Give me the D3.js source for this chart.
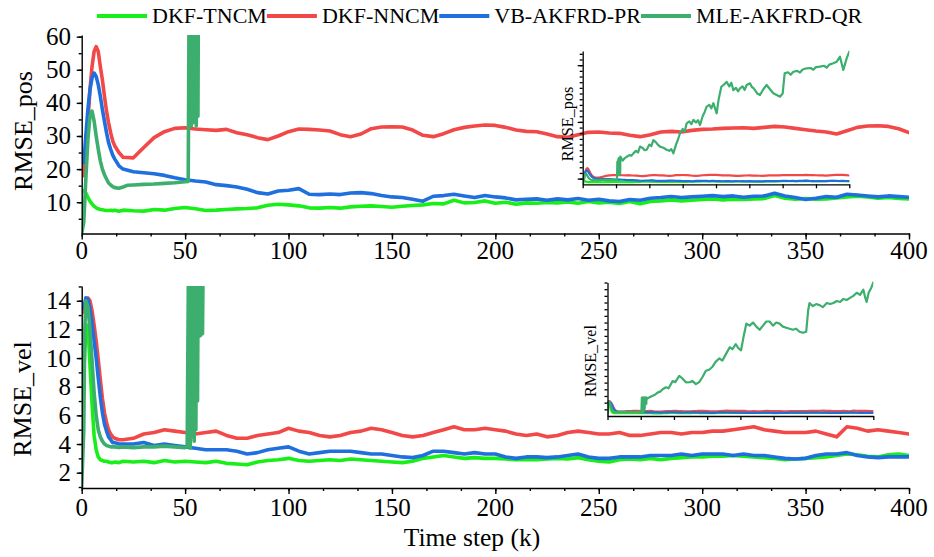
<!DOCTYPE html>
<html lang="en">
<head>
<meta charset="UTF-8">
<title>RMSE comparison</title>
<script src="https://cdn.jsdelivr.net/npm/d3@7"></script>
<style>
    body { margin: 0; background: #fff; }
    svg { display: block; }
    .axis path, .axis line { stroke: #000; stroke-width: 1.4; }
    .inset path, .inset line { stroke: #000; stroke-width: 1.3; }
    .line { fill: none; stroke-linejoin: round; stroke-linecap: round; }
</style>
</head>
<body>
<svg id="chart" width="934" height="557"></svg>
<script>
// series names and colours
const seriesNames = ["DKF-TNCM", "DKF-NNCM", "VB-AKFRD-PR", "MLE-AKFRD-QR"];
const seriesColors = ["#18ee18", "#f24848", "#1f6fde", "#3cae6d"];

// tick labels
const xTicks = [0, 50, 100, 150, 200, 250, 300, 350, 400];
const posTicks = [10, 20, 30, 40, 50, 60];
const velTicks = [2, 4, 6, 8, 10, 12, 14];

// time steps shared by the three stable filters
const kSteps = [1, 2, 3, 4, 5, 6, 7, 8, 9, 10, 11, 12, 13, 14, 15, 16, 18,
    20, 25, 30, 35, 40, 45, 50, 55, 60, 65,
    70, 75, 80, 85, 90, 95, 100, 105, 110, 115,
    120, 125, 130, 135, 140, 145, 150, 155, 160, 165,
    170, 175, 180, 185, 190, 195, 200, 205, 210, 215,
    220, 225, 230, 235, 240, 245, 250, 255, 260, 265,
    270, 275, 280, 285, 290, 295, 300, 305, 310, 315,
    320, 325, 330, 335, 340, 345, 350, 355, 360, 365,
    370, 375, 380, 385, 390, 395, 400];

// RMSE_pos
const posTNCM = [13.5, 12.8, 11.5, 10.3, 9.5, 8.8, 8.3, 8, 7.8, 7.7, 7.6, 7.5, 7.5, 7.6, 7.4, 7.6, 7.3,
    7.6, 7.4, 7.3, 7.8, 7.6, 8.1, 8.4, 8, 7.5, 7.6,
    7.8, 8, 8.1, 8.3, 9.1, 9.4, 9.2, 8.9, 8.3, 8.2,
    8.4, 8.2, 8.6, 8.8, 8.9, 8.7, 8.5, 8.8, 9, 9.2,
    9.6, 9.5, 10.6, 9.8, 9.9, 10.4, 9.7, 10, 9.4, 9.8,
    9.7, 9.9, 9.8, 10.1, 9.7, 10.2, 9.8, 10, 9.6, 10.2,
    9.5, 10.2, 10.4, 10.7, 10.4, 10.6, 10.8, 11, 10.7, 10.9,
    10.8, 11, 11.1, 12, 11.2, 10.9, 11.1, 10.9, 11, 11.3,
    11.6, 11.8, 11.6, 11.2, 11.4, 11.1, 11];
const posNNCM = [18, 24, 34, 44, 51, 55.5, 57, 55.5, 51, 47, 42, 37.5, 34, 31, 28.5, 27, 25,
    23.6, 23.4, 26.5, 29.5, 31.3, 32.3, 32.5, 32.1, 31.9, 31.7,
    32, 31, 30.4, 29.5, 28.9, 30, 31.3, 32.1, 32, 31.8,
    31.5, 30.4, 29.8, 30.6, 32.2, 32.7, 32.8, 32.7, 31.8, 30.2,
    29.8, 30.7, 31.9, 32.6, 33, 33.3, 33.2, 32.6, 31.8, 31.4,
    31.3, 30.6, 29.8, 29.6, 30.4, 31.1, 31.2, 30.9, 30.8, 30.2,
    29.8, 30.4, 31.2, 31.4, 31.2, 31.7, 32, 32.1, 32.3, 32.4,
    32.5, 32.3, 32.6, 32.9, 32.7, 32.3, 31.9, 31.5, 31.2, 30.6,
    31.6, 32.6, 33, 33.1, 32.9, 32.2, 31];
const posVB = [22, 30, 38, 44, 47.5, 49, 48, 45.5, 42, 38, 34.5, 31, 28, 26, 24.2, 23, 21,
    20, 19.2, 18.9, 18.6, 18.1, 17.4, 16.8, 16.4, 16.1, 15.3,
    15, 14.6, 13.9, 12.9, 12.5, 13.4, 13.6, 14.1, 12.4, 12.3,
    12.5, 12.3, 12.8, 12.9, 12.6, 12, 11.6, 11.4, 10.9, 10.3,
    11.8, 12, 12.4, 11.9, 11.4, 12, 11.6, 11.3, 10.7, 10.9,
    11, 10.6, 11, 10.7, 11.1, 10.6, 10.9, 10.4, 10.2, 10.8,
    10.6, 11.2, 11.4, 11.7, 11.4, 11.6, 11.8, 12, 11.7, 11.9,
    11.5, 11.8, 11.9, 12.7, 11.9, 11.4, 10.8, 11.2, 11.7, 11.5,
    12.4, 12.2, 11.9, 11.6, 11.9, 11.7, 11.5];
// MLE diverges after k = 51, so it keeps its own [k, value] pairs
const posMLE = [[0, 0.6], [1, 4], [2, 17], [3, 29], [4, 36], [5, 37.5], [6, 34.5], [7, 30], [8, 26], [9, 22.5],
    [10, 20], [11, 18.3], [12, 17], [13, 15.8], [14, 15.2], [15, 14.7], [16, 14.4], [18, 14.2], [20, 14.6],
    [22, 15.1], [25, 15.2], [30, 15.4], [35, 15.5], [40, 15.7], [45, 15.9], [50, 16.2], [51.5, 16.3],
    [52, 80], [52.5, 75], [53, 33], [53.4, 88], [53.8, 34], [54.2, 92], [54.6, 35], [55, 90], [55.4, 33],
    [55.8, 95], [56.2, 36], [56.6, 98], [60, 84], [63, 92], [66, 97], [70, 103], [73, 101], [76, 109],
    [80, 118], [83, 112], [86, 133], [90, 128], [93, 120], [96, 122], [100, 140], [103, 135], [106, 156],
    [110, 148], [113, 139], [116, 133], [120, 130], [123, 126], [126, 122], [130, 118], [133, 124], [136, 109],
    [140, 140], [143, 158], [146, 180], [150, 195], [153, 186], [156, 215], [160, 222], [163, 212], [166, 227],
    [170, 218], [173, 226], [176, 209], [180, 240], [183, 255], [186, 274], [190, 280], [193, 268], [196, 286],
    [201, 250], [204, 300], [208, 344], [212, 352], [216, 361], [220, 345], [223, 358], [226, 332], [230, 340],
    [233, 328], [236, 338], [240, 345], [243, 333], [246, 350], [251, 356], [254, 342], [256, 340], [259, 330],
    [262, 320], [266, 315], [271, 335], [276, 350], [281, 335], [286, 321], [291, 315], [296, 309], [300, 320],
    [303, 391], [308, 395], [312, 386], [316, 397], [322, 400], [326, 394], [330, 405], [336, 409], [342, 410],
    [346, 404], [350, 413], [356, 415], [362, 418], [366, 411], [370, 422], [376, 427], [381, 432], [386, 450],
    [391, 403], [396, 444], [400, 468]];

// RMSE_vel
const velTNCM = [9, 12, 12.3, 9.5, 6.8, 4.6, 3.6, 3.1, 2.9, 2.85, 2.8, 2.8, 2.75, 2.7, 2.7, 2.75, 2.7,
    2.8, 2.75, 2.8, 2.7, 2.85, 2.75, 2.8, 2.75, 2.7, 2.8,
    2.65, 2.6, 2.55, 2.75, 2.85, 2.9, 3, 2.85, 2.8, 2.85,
    2.9, 2.85, 2.95, 2.9, 2.85, 2.8, 2.75, 2.7, 2.8, 3,
    3.1, 3.2, 3.1, 3, 3.05, 3, 3, 2.95, 2.9, 2.9,
    2.9, 2.95, 3, 2.95, 3.05, 2.9, 2.8, 2.75, 2.9, 2.95,
    2.9, 3, 2.9, 3, 3.05, 3.1, 3.1, 3.15, 3.15, 3.2,
    3.15, 3.1, 3.05, 3, 2.9, 2.95, 3, 3.05, 3.1, 3.2,
    3.3, 3.25, 3.15, 3.1, 3.25, 3.3, 3.2];
const velNNCM = [13.2, 14, 14.2, 14, 13.3, 12.3, 11.2, 9.9, 8.5, 7.2, 6.2, 5.5, 5, 4.7, 4.5, 4.4, 4.3,
    4.3, 4.4, 4.7, 4.8, 5, 4.9, 4.8, 4.7, 4.8, 4.9,
    4.6, 4.4, 4.4, 4.6, 4.7, 4.8, 5.1, 4.9, 4.8, 4.6,
    4.5, 4.6, 4.8, 4.9, 5.1, 5, 4.8, 4.6, 4.5, 4.6,
    4.8, 5, 5.2, 5, 5, 5.1, 5, 4.9, 4.7, 4.6,
    4.7, 4.5, 4.6, 4.8, 4.9, 4.8, 4.7, 4.7, 4.8, 4.6,
    4.6, 4.7, 4.8, 4.8, 4.7, 4.8, 4.8, 4.9, 4.9, 5,
    5.1, 5.2, 5, 4.9, 4.8, 4.8, 4.8, 4.9, 4.7, 4.5,
    5.2, 5.1, 4.9, 5, 4.9, 4.8, 4.7];
const velVB = [13.5, 14.2, 14.1, 13.4, 12.4, 11.2, 10, 8.6, 7.3, 6.2, 5.4, 4.9, 4.5, 4.3, 4.1, 4.1, 4,
    4, 4, 4.1, 3.9, 4, 3.9, 3.8, 3.7, 3.6, 3.6,
    3.6, 3.5, 3.3, 3.4, 3.6, 3.7, 3.8, 3.5, 3.3, 3.4,
    3.5, 3.5, 3.5, 3.4, 3.3, 3.3, 3.2, 3.1, 3.05, 3.2,
    3.5, 3.5, 3.4, 3.3, 3.4, 3.3, 3.3, 3.1, 3, 3.1,
    3.1, 3.05, 3.1, 3.2, 3.3, 3.1, 3, 3, 3.1, 3.1,
    3.1, 3.2, 3.2, 3.2, 3.3, 3.2, 3.3, 3.3, 3.3, 3.2,
    3.3, 3.2, 3.2, 3.1, 3, 2.95, 3, 3.2, 3.3, 3.3,
    3.4, 3.2, 3.1, 3.05, 3.1, 3.1, 3.1];
const velMLE = [[0, 1], [1, 5], [1.5, 12], [2, 14], [3, 13.6], [4, 12], [5, 9.8], [6, 7.6], [7, 6], [8, 5],
    [9, 4.5], [10, 4.2], [11, 4], [12, 3.9], [13, 3.85], [14, 3.8], [16, 3.8], [18, 3.75], [20, 3.8],
    [25, 3.75], [30, 3.8], [35, 3.8], [40, 3.85], [45, 3.8], [50, 3.75], [51, 3.8],
    [51.7, 18], [52.5, 3.7], [53.2, 18], [53.6, 4.5], [54, 18], [54.4, 4.2], [54.8, 18], [55.2, 5], [55.6, 18],
    [56, 7], [56.4, 18], [56.8, 11.5], [57.2, 18], [57.6, 11.6], [58, 18], [58.4, 11.7], [58.8, 18], [60, 17],
    [64, 18.5], [68, 19.7], [72, 21], [76, 23], [80, 24], [83, 26], [88, 28], [92, 27], [98, 34], [102, 33],
    [108, 39], [112, 37], [118, 32.8], [124, 33], [128, 34], [133, 31], [138, 33], [143, 38], [148, 44],
    [153, 45], [158, 48], [163, 53], [168, 56], [173, 54], [178, 60], [184, 67], [188, 65], [193, 70],
    [197, 66], [201, 64], [205, 78], [209, 90], [214, 88], [219, 91], [224, 87], [229, 84], [234, 88],
    [239, 92], [244, 92], [249, 88], [254, 91], [259, 90], [264, 87], [269, 86], [274, 85], [279, 84],
    [284, 85], [289, 82], [294, 81], [299, 82], [302, 103], [304, 110], [309, 107], [314, 109], [319, 108],
    [324, 106], [330, 110], [335, 109], [340, 110], [345, 112], [350, 111], [355, 114], [360, 113],
    [365, 115], [370, 117], [375, 120], [380, 118], [385, 123], [388, 115], [390, 111], [393, 120],
    [397, 125], [400, 130]];

const FONT = "Liberation Serif";
const svg = d3.select("#chart");
const defs = svg.append("defs");
let clipCount = 0;

function addClip(x0, y0, w, h) {
    const id = "clip" + (clipCount++);
    defs.append("clipPath").attr("id", id)
        .append("rect").attr("x", x0).attr("y", y0).attr("width", w).attr("height", h);
    return "url(#" + id + ")";
}

function drawSeries(g, x, y, series, width) {
    const line = d3.line().x(d => x(d[0])).y(d => y(d[1]));
    series.forEach(s => {
        g.append("path")
            .attr("class", "line")
            .attr("d", line(s.data))
            .attr("stroke", s.color)
            .attr("stroke-width", width);
    });
}

function label(x, y, str, size, anchor, rotate) {
    const t = svg.append("text")
        .attr("text-anchor", anchor)
        .style("font-family", FONT)
        .style("font-size", size + "px")
        .style("fill", "#000")
        .text(str);
    if (rotate) t.attr("transform", "translate(" + x + "," + y + ") rotate(-90)");
    else t.attr("x", x).attr("y", y);
    return t;
}

function drawPanel(p) {
    const x = d3.scaleLinear().domain([0, 400]).range([81.7, 909]);
    const y = d3.scaleLinear().domain(p.yDomain).range(p.yRange);
    const [yBottom, yTop] = p.yRange;

    // lines, clipped to the plot box
    const lines = svg.append("g")
        .attr("clip-path", addClip(81.7, yTop, 909 - 81.7, yBottom - yTop));
    drawSeries(lines, x, y, p.series, 3.6);

    // x axis: major ticks, minors every 50/3; labels drawn separately
    svg.append("g").attr("class", "axis")
        .attr("transform", "translate(0," + yBottom + ")")
        .call(d3.axisBottom(x).tickValues(xTicks).tickSize(6).tickSizeOuter(0).tickFormat(() => ""));
    svg.append("g").attr("class", "axis")
        .attr("transform", "translate(0," + yBottom + ")")
        .call(d3.axisBottom(x).tickValues(d3.range(0, 401, 50 / 3)).tickSize(3).tickFormat(() => ""))
        .select(".domain").remove();
    xTicks.forEach(d => label(x(d), yBottom + p.xBase, d, 25, "middle"));

    // y axis
    svg.append("g").attr("class", "axis")
        .attr("transform", "translate(81.7,0)")
        .call(d3.axisLeft(y).tickValues(p.yTicks).tickSize(5).tickSizeOuter(0).tickFormat(() => ""));
    svg.append("g").attr("class", "axis")
        .attr("transform", "translate(81.7,0)")
        .call(d3.axisLeft(y).tickValues(p.yMinor).tickSize(3).tickFormat(() => ""))
        .select(".domain").remove();
    p.yTicks.forEach(d => label(71, y(d) + 8.5, d, 25, "end"));

    label(p.titleX, p.titleY, p.title, 26, "middle", true);

    // inset with the whole divergence of MLE-AKFRD-QR
    const ix = d3.scaleLinear().domain([0, 400]).range(p.inset.x);
    const iy = d3.scaleLinear().domain([0, p.inset.max]).range(p.inset.y);
    const ig = svg.append("g")
        .attr("clip-path", addClip(p.inset.x[0], p.inset.y[1] - 2, p.inset.x[1] - p.inset.x[0], p.inset.y[0] - p.inset.y[1] + 2));
    drawSeries(ig, ix, iy, p.series, 2.2);

    svg.append("g").attr("class", "inset")
        .attr("transform", "translate(0," + p.inset.y[0] + ")")
        .call(d3.axisBottom(ix).tickValues(xTicks).tickSize(4).tickSizeOuter(0).tickFormat(() => ""));
    svg.append("g").attr("class", "inset")
        .attr("transform", "translate(" + p.inset.x[0] + ",0)")
        .call(d3.axisLeft(iy).tickValues(p.inset.ticks).tickSize(3).tickSizeOuter(0).tickFormat(() => ""));
    svg.append("g").attr("class", "inset")
        .attr("transform", "translate(" + p.inset.x[0] + ",0)")
        .call(d3.axisLeft(iy).tickValues(p.inset.major).tickSize(5).tickFormat(() => ""))
        .select(".domain").remove();

    label(p.inset.labelX, p.inset.labelY, p.title, 16.2, "middle", true);
}

function stable(values) {
    return d3.zip(kSteps, values);
}

drawPanel({
    yDomain: [0.55, 60.5], yRange: [233.5, 35], xBase: 25.5,
    yTicks: posTicks, yMinor: d3.range(5, 61, 5),
    title: "RMSE_pos", titleX: 32, titleY: 131,
    series: [
        { color: seriesColors[0], data: stable(posTNCM) },
        { color: seriesColors[1], data: stable(posNNCM) },
        { color: seriesColors[2], data: stable(posVB) },
        { color: seriesColors[3], data: posMLE }
    ],
    inset: {
        x: [582.7, 849.3], y: [184.3, 51], max: 470,
        ticks: d3.range(20, 470, 20), major: [20, 220, 420],
        labelX: 572.5, labelY: 124
    }
});

drawPanel({
    yDomain: [0.93, 15.03], yRange: [488, 286], xBase: 28,
    yTicks: velTicks, yMinor: d3.range(1, 16, 1),
    title: "RMSE_vel", titleX: 31, titleY: 399,
    series: [
        { color: seriesColors[0], data: stable(velTNCM) },
        { color: seriesColors[1], data: stable(velNNCM) },
        { color: seriesColors[2], data: stable(velVB) },
        { color: seriesColors[3], data: velMLE }
    ],
    inset: {
        x: [607.5, 873.3], y: [416, 282.5], max: 130,
        ticks: d3.range(6.5, 131, 6.5), major: [],
        labelX: 595.7, labelY: 361
    }
});

label(472, 546, "Time step (k)", 25.5, "middle");

// legend, items chained left to right
let lx = 97;
seriesNames.forEach((name, i) => {
    svg.append("line")
        .attr("x1", lx).attr("x2", lx + 50)
        .attr("y1", 16).attr("y2", 16)
        .attr("stroke", seriesColors[i]).attr("stroke-width", 4);
    const t = label(lx + 55, 23, name, 22, "start");
    lx = lx + 55 + t.node().getComputedTextLength();
});
</script>
</body>
</html>
